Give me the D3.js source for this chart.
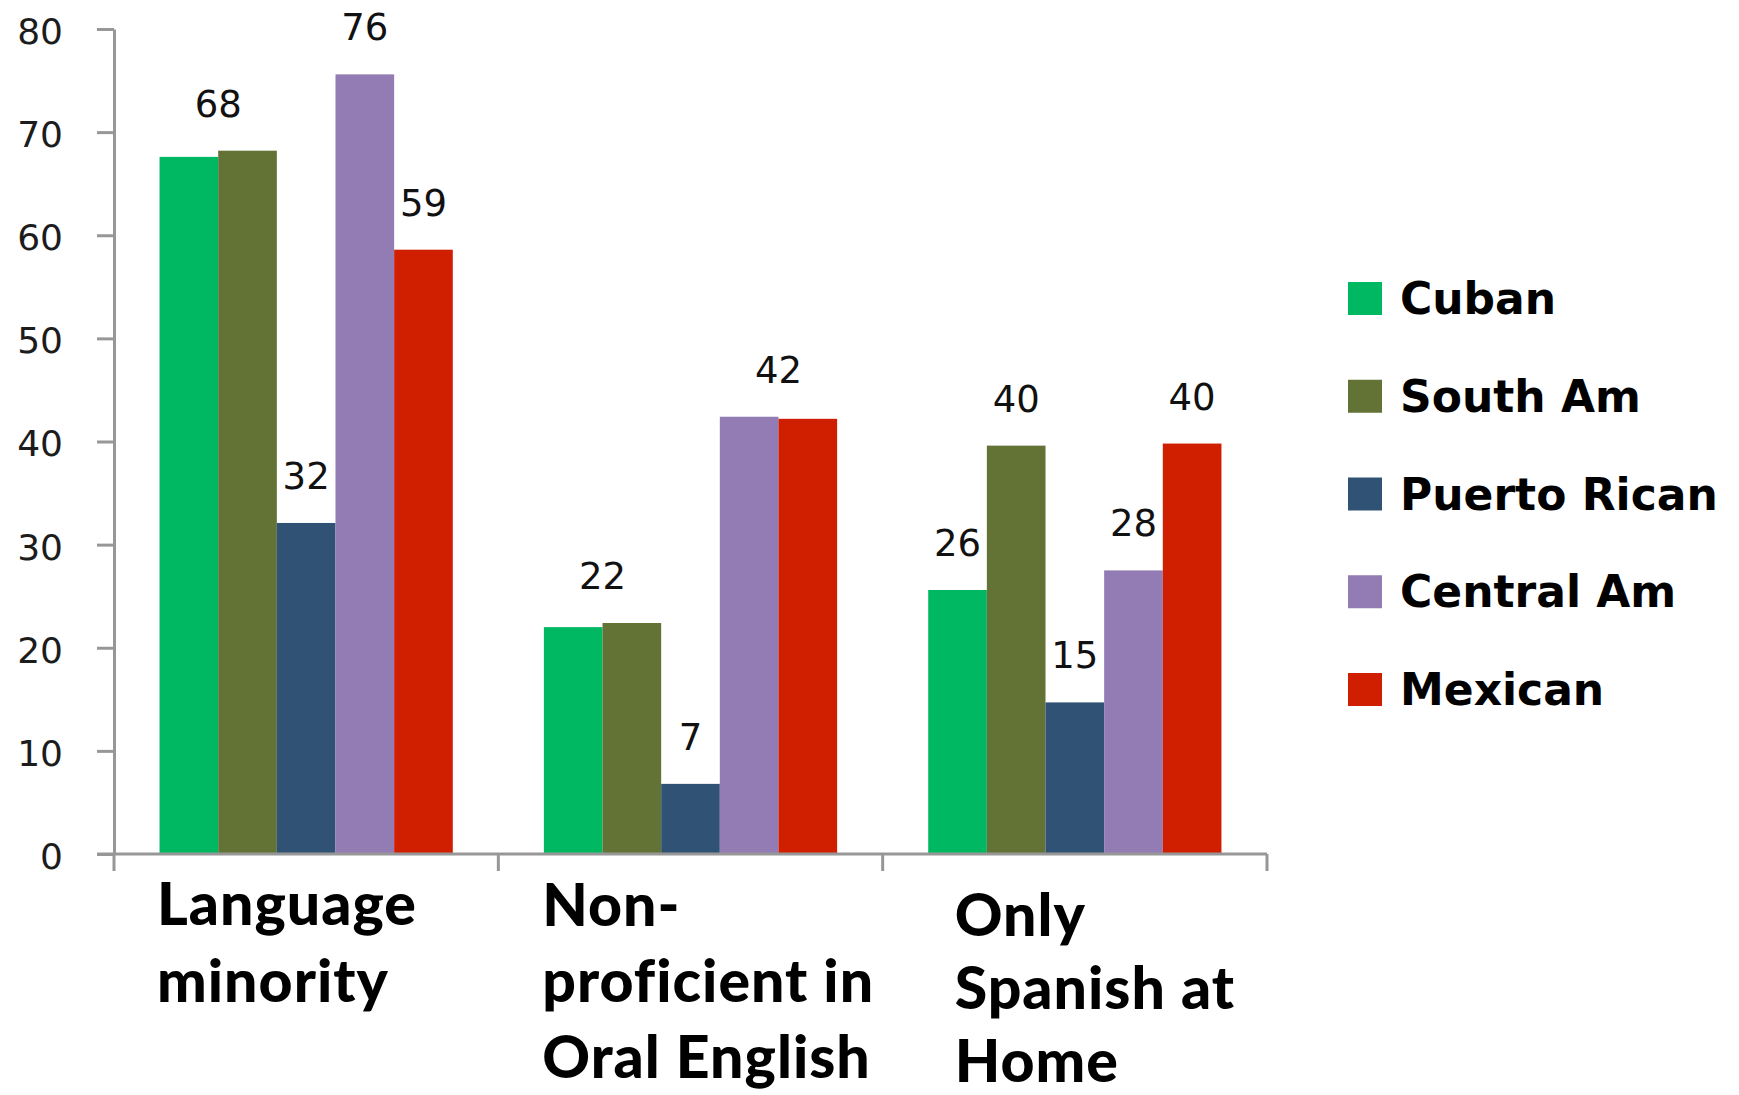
<!DOCTYPE html>
<html>
<head>
<meta charset="utf-8">
<script src="https://cdn.jsdelivr.net/npm/d3@7"></script>
<style>
  html, body { margin: 0; padding: 0; background: #ffffff; }
  svg { display: block; }
</style>
</head>
<body>
<svg id="chart" width="1739" height="1095"></svg>
<script>
// Categories along the x axis, with the line breaks used for their labels
const categories = ["Language minority", "Non-proficient in Oral English", "Only Spanish at Home"];
const categoryLines = [
  ["Language", "minority"],
  ["Non-", "proficient in", "Oral English"],
  ["Only", "Spanish at", "Home"]
];

// Series (one bar per category each)
const seriesNames = ["Cuban", "South Am", "Puerto Rican", "Central Am", "Mexican"];
const cuban       = [67.6, 22.0, 25.6];
const southAm     = [68.2, 22.4, 39.6];
const puertoRican = [32.1, 6.8, 14.7];
const centralAm   = [75.6, 42.4, 27.5];
const mexican     = [58.6, 42.2, 39.8];
const seriesValues = [cuban, southAm, puertoRican, centralAm, mexican];

const seriesColors = ["#00b862", "#627335", "#305375", "#937bb3", "#d01f00"];

const yTicks = [0, 10, 20, 30, 40, 50, 60, 70, 80];

// ---- layout ----
const svg = d3.select("#chart");
const axisColor = "#979797";
const plot = { left: 114, right: 1267, top: 29, bottom: 854 };

const y = d3.scaleLinear().domain([0, 80]).range([plot.bottom, plot.top]);

const x0 = d3.scaleBand()
  .domain(categories)
  .range([plot.left, plot.right])
  .paddingInner(0.237)
  .paddingOuter(0.1185);

const x1 = d3.scaleBand()
  .domain(seriesNames)
  .range([0, x0.bandwidth()]);

// ---- y axis ----
const yAxis = d3.axisLeft(y)
  .tickValues(yTicks)
  .tickSize(17)
  .tickSizeOuter(0)
  .tickPadding(34);

const gy = svg.append("g")
  .attr("transform", `translate(${plot.left},0)`)
  .call(yAxis);
gy.select(".domain").attr("stroke", axisColor).attr("stroke-width", 3);
gy.selectAll(".tick line").attr("stroke", axisColor).attr("stroke-width", 3);
gy.selectAll(".tick text")
  .attr("font-family", "DejaVu Sans")
  .attr("font-size", 36)
  .attr("fill", "#1c1c1c")
  .attr("dy", "0.4em");

// ---- bars ----
const rows = categories.map((c, ci) => ({
  category: c,
  values: seriesNames.map((s, si) => ({ series: s, index: si, value: seriesValues[si][ci] }))
}));

const groups = svg.append("g").selectAll("g")
  .data(rows)
  .join("g")
  .attr("transform", d => `translate(${x0(d.category)},0)`);

groups.selectAll("rect")
  .data(d => d.values)
  .join("rect")
  .attr("x", d => x1(d.series))
  .attr("width", x1.bandwidth())
  .attr("y", d => y(d.value))
  .attr("height", d => y(0) - y(d.value))
  .attr("fill", d => seriesColors[d.index]);

// ---- x axis line with boundary ticks ----
const gx = svg.append("g");
gx.append("line")
  .attr("x1", plot.left - 17).attr("x2", plot.right)
  .attr("y1", y(0)).attr("y2", y(0))
  .attr("stroke", axisColor).attr("stroke-width", 3);
const boundaries = d3.range(categories.length + 1).map(i => plot.left + i * x0.step());
gx.selectAll("line.tick")
  .data(boundaries)
  .join("line")
  .attr("class", "tick")
  .attr("x1", d => d).attr("x2", d => d)
  .attr("y1", y(0)).attr("y2", y(0) + 17)
  .attr("stroke", axisColor).attr("stroke-width", 3);

// ---- value labels: adjacent bars with the same rounded value share one label ----
rows.forEach(row => {
  const labels = [];
  row.values.forEach(v => {
    const r = Math.round(v.value);
    const last = labels[labels.length - 1];
    if (last && last.text === r && last.lastIndex === v.index - 1) {
      last.bars.push(v);
      last.lastIndex = v.index;
    } else {
      labels.push({ text: r, bars: [v], lastIndex: v.index });
    }
  });
  const g = svg.append("g").attr("transform", `translate(${x0(row.category)},0)`);
  labels.forEach(l => {
    const xs = l.bars.map(b => x1(b.series) + x1.bandwidth() / 2);
    const top = d3.max(l.bars, b => b.value);
    g.append("text")
      .attr("x", d3.mean(xs))
      .attr("y", y(top) - 34)
      .attr("text-anchor", "middle")
      .attr("font-family", "DejaVu Sans")
      .attr("font-size", 37)
      .attr("fill", "#111")
      .text(l.text);
  });
});

// ---- category labels ----
const catInset = [43, 44, 72];
const catDrop = [71, 72, 82];
const catLineHeight = [77, 76, 73];
categoryLines.forEach((lines, i) => {
  const t = svg.append("text")
    .attr("font-family", "Lato, 'Open Sans', sans-serif")
    .attr("font-weight", 900)
    .attr("font-size", 59)
    .attr("letter-spacing", 1)
    .attr("fill", "#000");
  lines.forEach((ln, j) => {
    t.append("tspan")
      .attr("x", boundaries[i] + catInset[i])
      .attr("y", y(0) + catDrop[i] + j * catLineHeight[i])
      .text(ln);
  });
});

// ---- legend ----
const legend = svg.append("g").attr("transform", "translate(1348,282)");
const legendRow = 97.75;
const items = legend.selectAll("g")
  .data(seriesNames)
  .join("g")
  .attr("transform", (d, i) => `translate(0,${i * legendRow})`);
items.append("rect")
  .attr("width", 34).attr("height", 33)
  .attr("fill", (d, i) => seriesColors[i]);
items.append("text")
  .attr("x", 52)
  .attr("y", 32)
  .attr("font-family", "DejaVu Sans")
  .attr("font-weight", "bold")
  .attr("font-size", 44)
  .attr("fill", "#000")
  .text(d => d);
</script>
</body>
</html>
